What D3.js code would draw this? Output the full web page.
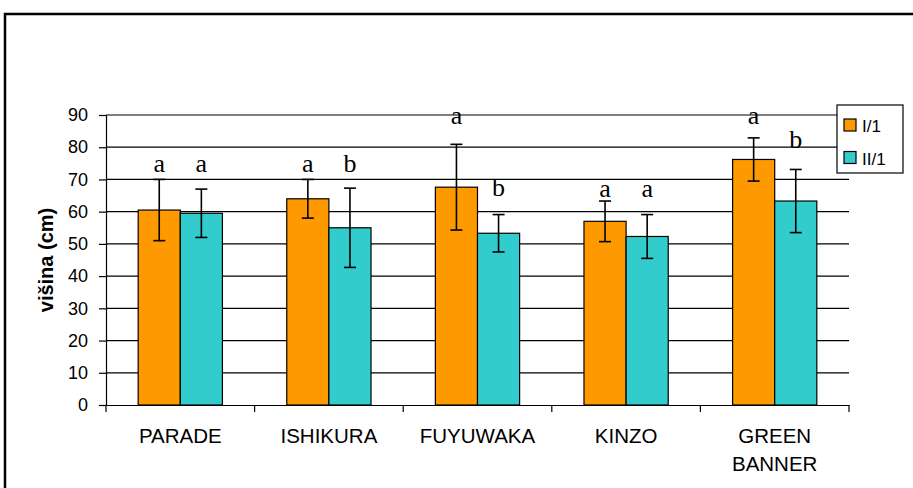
<!DOCTYPE html>
<html>
<head>
<meta charset="utf-8">
<script src="https://cdn.jsdelivr.net/npm/d3@7"></script>
<style>
  body { margin: 0; background: white; }
  text { font-family: Arial, "Liberation Sans", sans-serif; fill: black; }
</style>
</head>
<body>
<div id="chart-area"></div>
<script>
// data
const categories = ["PARADE", "ISHIKURA", "FUYUWAKA", "KINZO", "GREEN BANNER"];
const seriesNames = ["I/1", "II/1"];
const valuesI = [60.5, 64.0, 67.6, 57.0, 76.2];
const errorsI = [9.5, 6.0, 13.3, 6.3, 6.7];
const valuesII = [59.5, 55.0, 53.3, 52.3, 63.3];
const errorsII = [7.5, 12.3, 5.8, 6.8, 9.8];
// significance letters and the level (cm) where each sits
const lettersI = ["a", "a", "a", "a", "a"];
const lettersII = ["a", "b", "b", "a", "b"];
const letterLevelI = [72.4, 72.4, 87.2, 64.6, 87.1];
const letterLevelII = [72.4, 72.4, 64.8, 64.6, 79.8];
const yTicks = [0, 10, 20, 30, 40, 50, 60, 70, 80, 90];

const width = 913;
const height = 488;
const colors = ["#FF9900", "#33CCCC"];

const svg = d3.select("#chart-area")
    .append("svg")
    .attr("width", width)
    .attr("height", height);

svg.append("rect")
    .attr("width", width)
    .attr("height", height)
    .attr("fill", "white");

// outer frame
svg.append("rect")
    .attr("x", 5)
    .attr("y", 14)
    .attr("width", 930)
    .attr("height", 500)
    .attr("fill", "none")
    .attr("stroke", "black")
    .attr("stroke-width", 2.5);

// build rows
const rows = categories.map((c, i) => ({
    cat: c,
    vals: [
        {s: 0, v: valuesI[i], e: errorsI[i], l: lettersI[i], ly: letterLevelI[i]},
        {s: 1, v: valuesII[i], e: errorsII[i], l: lettersII[i], ly: letterLevelII[i]}
    ]
}));

// scales
const x = d3.scaleBand()
    .domain(categories)
    .range([106, 849])
    .paddingInner(0)
    .paddingOuter(0);

const xs = d3.scaleBand()
    .domain([0, 1])
    .range([0, x.bandwidth()])
    .paddingInner(0)
    .paddingOuter(0.764);

const y = d3.scaleLinear()
    .domain([0, 90])
    .range([405, 115]);

// gridlines
svg.append("g")
    .selectAll("line")
    .data(yTicks.slice(1))
    .enter().append("line")
    .attr("x1", 106)
    .attr("x2", 849)
    .attr("y1", d => y(d))
    .attr("y2", d => y(d))
    .attr("stroke", "black")
    .attr("stroke-width", 1.2);

// y axis
const yAxis = svg.append("g")
    .attr("class", "y-axis")
    .attr("transform", "translate(106,0)")
    .call(d3.axisLeft(y).tickValues(yTicks).tickSize(7).tickPadding(11));

// x axis
const xAxisGroup = svg.append("g")
    .attr("class", "x-axis")
    .attr("transform", "translate(0,405)")
    .call(d3.axisBottom(x).tickSize(0).tickFormat(""));

// category boundary ticks
xAxisGroup.selectAll(".bound")
    .data(categories.concat(["end"]))
    .enter().append("line")
    .attr("class", "bound")
    .attr("x1", (d, i) => x.range()[0] + i * x.step())
    .attr("x2", (d, i) => x.range()[0] + i * x.step())
    .attr("y1", 0)
    .attr("y2", 7)
    .attr("stroke", "black")
    .attr("stroke-width", 1.2);

svg.selectAll(".x-axis path, .y-axis path, .y-axis line")
    .attr("stroke", "black")
    .attr("stroke-width", 1.2);

svg.selectAll(".y-axis text")
    .attr("font-size", "18px")
    .attr("font-family", "Arial, 'Liberation Sans', sans-serif")
    .attr("fill", "black");

// x category labels, wrapped on spaces
const xLabels = svg.append("g")
    .selectAll("text")
    .data(categories)
    .enter().append("text")
    .attr("x", d => x(d) + x.bandwidth() / 2)
    .attr("y", 442.7)
    .attr("text-anchor", "middle")
    .attr("font-size", "20.5px");

xLabels.each(function(d) {
    const t = d3.select(this);
    d.split(" ").forEach((w, i) => {
        t.append("tspan")
            .attr("x", x(d) + x.bandwidth() / 2)
            .attr("dy", i === 0 ? 0 : 28)
            .text(w);
    });
});

// y axis label
svg.append("text")
    .attr("transform", "translate(53," + ((y(0) + y(90)) / 2) + ") rotate(-90)")
    .attr("text-anchor", "middle")
    .attr("font-size", "20px")
    .attr("font-weight", "bold")
    .text("višina (cm)");

// bars
const groups = svg.append("g")
    .selectAll("g")
    .data(rows)
    .enter().append("g")
    .attr("transform", d => "translate(" + x(d.cat) + ",0)");

groups.selectAll("rect")
    .data(d => d.vals)
    .enter().append("rect")
    .attr("x", d => xs(d.s))
    .attr("y", d => y(d.v))
    .attr("width", xs.bandwidth())
    .attr("height", d => y(0) - y(d.v))
    .attr("fill", d => colors[d.s])
    .attr("stroke", "black")
    .attr("stroke-width", 1.2);

// error bars
const err = groups.selectAll(".err")
    .data(d => d.vals)
    .enter().append("g")
    .attr("class", "err")
    .attr("transform", d => "translate(" + (xs(d.s) + xs.bandwidth() / 2) + ",0)");

err.append("line")
    .attr("x1", 0).attr("x2", 0)
    .attr("y1", d => y(d.v + d.e))
    .attr("y2", d => y(d.v - d.e));

err.append("line")
    .attr("x1", -6).attr("x2", 6)
    .attr("y1", d => y(d.v + d.e))
    .attr("y2", d => y(d.v + d.e));

err.append("line")
    .attr("x1", -6).attr("x2", 6)
    .attr("y1", d => y(d.v - d.e))
    .attr("y2", d => y(d.v - d.e));

err.selectAll("line")
    .attr("stroke", "black")
    .attr("stroke-width", 1.6);

// significance letters
groups.selectAll(".letter")
    .data(d => d.vals)
    .enter().append("text")
    .attr("class", "letter")
    .attr("x", d => xs(d.s) + xs.bandwidth() / 2)
    .attr("y", d => y(d.ly))
    .attr("text-anchor", "middle")
    .attr("font-size", "26px")
    .style("font-family", "'Liberation Serif', 'Times New Roman', serif")
    .text(d => d.l);

// legend
const legend = svg.append("g");

legend.append("rect")
    .attr("x", 837)
    .attr("y", 105)
    .attr("width", 66)
    .attr("height", 68)
    .attr("fill", "white")
    .attr("stroke", "black")
    .attr("stroke-width", 1.2);

seriesNames.forEach((s, i) => {
    legend.append("rect")
        .attr("x", 844)
        .attr("y", 119 + i * 32.5)
        .attr("width", 12)
        .attr("height", 12)
        .attr("fill", colors[i])
        .attr("stroke", "black")
        .attr("stroke-width", 1.2);
    legend.append("text")
        .attr("x", 862)
        .attr("y", 131.5 + i * 33)
        .attr("font-size", "17px")
        .text(s);
});
</script>
</body>
</html>
